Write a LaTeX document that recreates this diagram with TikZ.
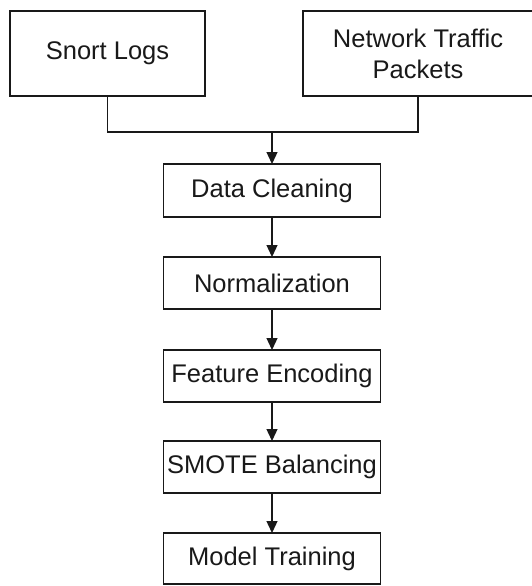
\documentclass[tikz,border=0pt]{standalone}
\usepackage{fontspec}
\setmainfont{Liberation Sans}
\usetikzlibrary{arrows.meta}
\begin{document}
\begin{tikzpicture}[x=1pt,y=-1pt,
  boxline/.style={draw=black!90, line width=1.6pt},
  box/.style={boxline, fill=white, inner sep=0pt, outer sep=0pt,
    font=\fontsize{25.5}{31}\selectfont, text=black!90, align=center},
  conn/.style={draw=black!90, line width=1.3pt},
  arr/.style={conn, -{Triangle[length=12pt,width=11pt]}}]
\useasboundingbox[fill=white] (0,0) rectangle (531,586);
\node[box, minimum width=195pt, minimum height=85pt] (snort) at (107.5,53.5) {Snort Logs};
\node[box, draw=none, fill=none, minimum width=230pt, minimum height=85pt] (net) at (418,53.5) {Network Traffic\\Packets};
\draw[boxline] (net.south west) rectangle ([xshift=20pt]net.north east);
\node[box, minimum width=217pt, minimum height=53pt] (dc) at (272,190.5) {Data Cleaning};
\node[box, minimum width=217pt, minimum height=52pt] (norm) at (272,283) {Normalization};
\node[box, minimum width=217pt, minimum height=52pt] (fe) at (272,376) {Feature Encoding};
\node[box, minimum width=217pt, minimum height=52pt] (sm) at (272,467) {SMOTE Balancing};
\node[box, minimum width=217pt, minimum height=51pt] (mt) at (272,558.5) {Model Training};
\coordinate (join) at (272,132);
\draw[conn] (snort.south) |- (join);
\draw[conn] (net.south) |- (join);
\draw[arr] (join) -- (dc.north);
\draw[arr] (dc.south) -- (norm.north);
\draw[arr] (norm.south) -- (fe.north);
\draw[arr] (fe.south) -- (sm.north);
\draw[arr] (sm.south) -- (mt.north);
\end{tikzpicture}
\end{document}
